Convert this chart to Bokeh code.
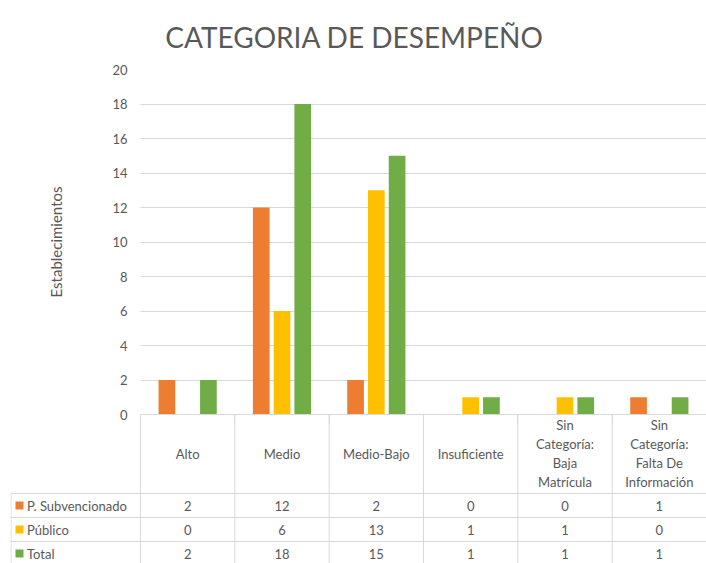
from bokeh.plotting import figure
from bokeh.models import Range1d, FixedTicker, ColumnDataSource
from bokeh.core.properties import value
from bokeh.embed import file_html
from bokeh.resources import INLINE

categories = ["Alto", "Medio", "Medio-Bajo", "Insuficiente",
              "Sin\nCategoría:\nBaja\nMatrícula",
              "Sin\nCategoría:\nFalta De\nInformación"]
series_names = ["P. Subvencionado", "Público", "Total"]
p_subvencionado = [2, 12, 2, 0, 0, 1]
publico = [0, 6, 13, 1, 1, 0]
total = [2, 18, 15, 1, 1, 1]
y_ticks = [0, 2, 4, 6, 8, 10, 12, 14, 16, 18, 20]
title_text = "CATEGORIA DE DESEMPEÑO"

series = [p_subvencionado, publico, total]
colors = ["#ED7D31", "#FFC000", "#70AD47"]
TXT = "#595959"
GRID = "#D9D9D9"
FONT = "Lato"

n = len(categories)
W = 706
H = 563
TH_TITLE = 56       # height of the title strip
LEFT = 140          # frame left
TOP = 69            # frame top (absolute)
FB = 414            # frame bottom (absolute)
B = 10              # bottom border of chart figure (overlaps the table)
col_w = (W - LEFT) / n

# ---------- title strip ----------
tt = figure(width=W, height=TH_TITLE, output_backend="svg", toolbar_location=None,
            x_range=Range1d(0, W), y_range=Range1d(TH_TITLE, 0),
            min_border=0)
tt.outline_line_color = None
tt.axis.visible = False
tt.grid.visible = False
tt.text(x=[354], y=[36], text=[title_text], text_align="center",
        text_baseline="alphabetic", text_font=value(FONT),
        text_font_size="28px", text_color=TXT)

# ---------- chart ----------
p = figure(width=W, height=FB + B - TH_TITLE, output_backend="svg",
           toolbar_location=None,
           x_range=Range1d(0, n), y_range=Range1d(0, 20),
           min_border_left=LEFT, min_border_right=0,
           min_border_top=TOP - TH_TITLE, min_border_bottom=B)
p.outline_line_color = None

offsets = [-0.22, 0.0, 0.22]
bw = 0.177
for k, vals in enumerate(series):
    src = ColumnDataSource(dict(x=[i + 0.5 + offsets[k] for i in range(n)], top=vals))
    p.vbar(x="x", top="top", width=bw, source=src, fill_color=colors[k],
           line_color=None)

# x axis used as the top border of the data table
p.xaxis.ticker = FixedTicker(ticks=list(range(n + 1)))
p.xaxis.axis_line_color = GRID
p.xaxis.major_tick_line_color = GRID
p.xaxis.major_tick_in = 0
p.xaxis.major_tick_out = B
p.xaxis.minor_tick_line_color = None
p.xaxis.major_label_text_font_size = "0px"
p.xaxis.major_label_standoff = 0
p.xaxis.major_label_overrides = {i: "" for i in range(n + 1)}
p.xgrid.visible = False
p.ygrid.grid_line_color = GRID
p.ygrid.grid_line_width = 1
p.yaxis.ticker = FixedTicker(ticks=y_ticks)
p.yaxis.axis_line_color = None
p.yaxis.major_tick_line_color = None
p.yaxis.minor_tick_line_color = None
p.yaxis.major_label_text_font = FONT
p.yaxis.major_label_text_font_size = "13px"
p.yaxis.major_label_text_color = TXT
p.yaxis.major_label_standoff = 7
p.yaxis.axis_label = "Establecimientos"
p.yaxis.axis_label_text_font = FONT
p.yaxis.axis_label_text_font_size = "15px"
p.yaxis.axis_label_text_font_style = "normal"
p.yaxis.axis_label_text_color = TXT
p.yaxis.axis_label_standoff = 44

# ---------- data table (pulled up so that it overlaps the chart's bottom border) ----------
TH = H - FB
header_h = 79
row_h = 24
left_edge = -(LEFT - 10) / col_w   # abs x = 10
t = figure(width=W, height=TH, output_backend="svg", toolbar_location=None,
           x_range=Range1d(left_edge, n), y_range=Range1d(TH, 0),
           min_border_left=10, min_border_right=0, min_border_top=0,
           min_border_bottom=0)
t.styles = {"margin-top": f"-{B}px"}
t.background_fill_color = None
t.border_fill_color = None
t.outline_line_color = None
t.xaxis.visible = False
t.yaxis.visible = False
t.grid.visible = False

# borders
t.segment(x0=list(range(n + 1)), y0=[0] * (n + 1), x1=list(range(n + 1)),
          y1=[TH] * (n + 1), line_color=GRID, line_width=1)
row_lines = [header_h + r * row_h for r in range(len(series))]
t.segment(x0=[left_edge] * len(row_lines), y0=row_lines,
          x1=[n] * len(row_lines), y1=row_lines, line_color=GRID, line_width=1)
t.segment(x0=[left_edge + 0.5 / col_w], y0=[header_h], x1=[left_edge + 0.5 / col_w],
          y1=[TH], line_color=GRID, line_width=1)

# category headers
t.text(x=[i + 0.5 for i in range(n)], y=[39] * n, text=categories,
       text_align="center", text_baseline="middle", text_font=value(FONT),
       text_font_size="13px", text_color=TXT, text_line_height=1.17)

# rows
for k, vals in enumerate(series):
    yc = header_h + k * row_h + row_h / 2
    t.text(x=[i + 0.5 for i in range(n)], y=[yc] * n, text=[str(v) for v in vals],
           text_align="center", text_baseline="middle", text_font=value(FONT),
           text_font_size="13px", text_color=TXT)
    t.scatter(x=[left_edge + 9 / col_w], y=[yc], marker="square", size=8,
              fill_color=colors[k], line_color=None)
    t.text(x=[left_edge + 16.5 / col_w], y=[yc], text=[series_names[k]],
           text_align="left", text_baseline="middle", text_font=value(FONT),
           text_font_size="13px", text_color=TXT)

open("out.html", "w").write(file_html([tt, p, t], INLINE))
